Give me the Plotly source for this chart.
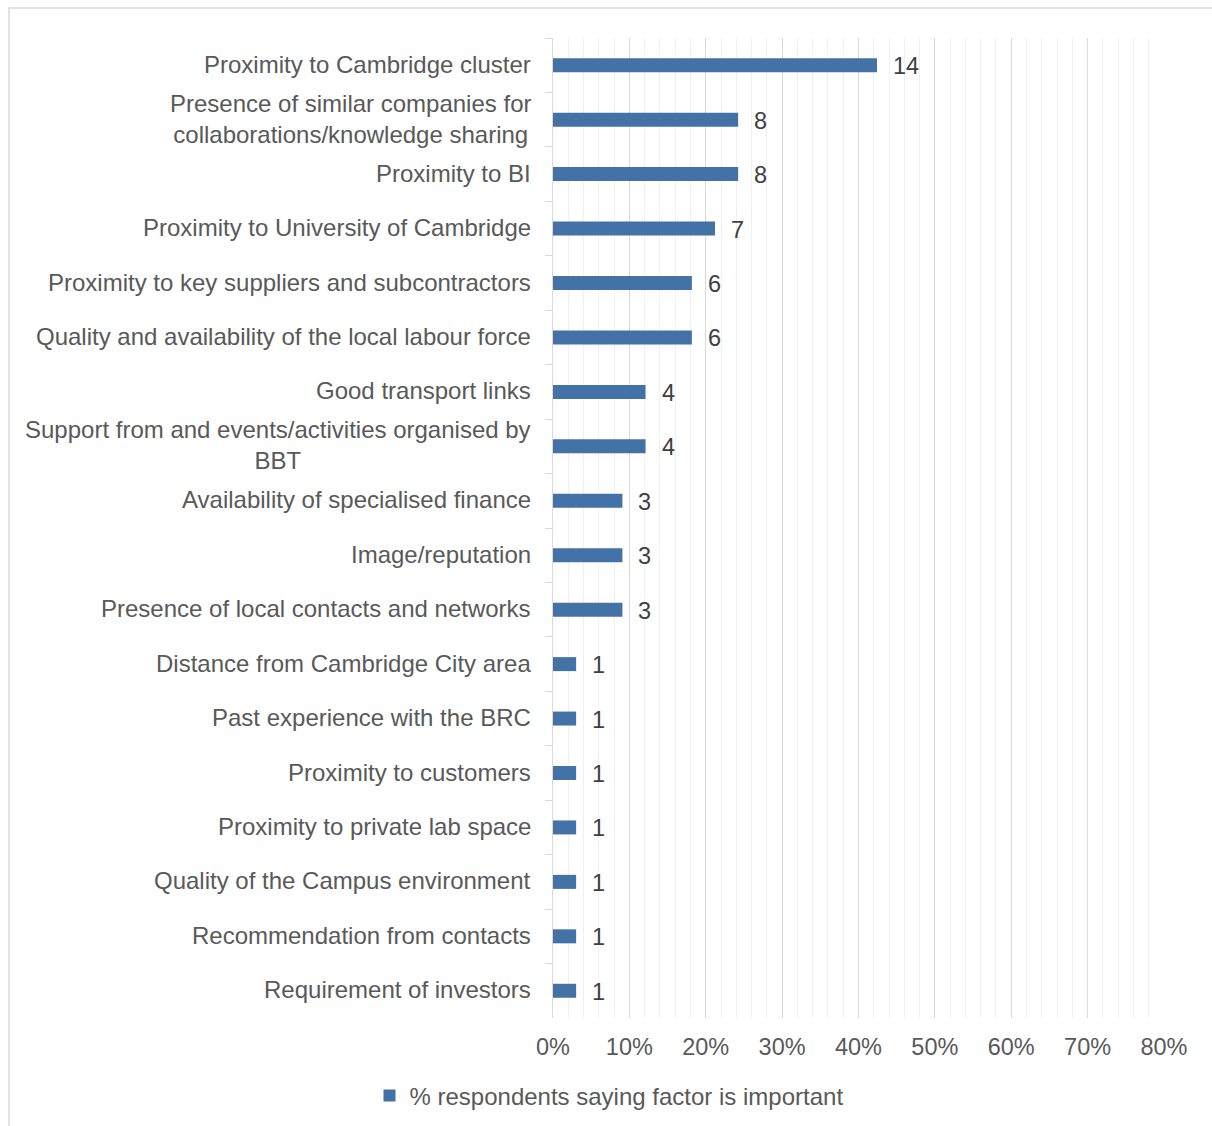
import plotly.graph_objects as go

# Factors cited by respondents and how many respondents named each one
factors = [
    "Proximity to Cambridge cluster",
    "Presence of similar companies for<br>collaborations/knowledge sharing",
    "Proximity to BI",
    "Proximity to University of Cambridge",
    "Proximity to key suppliers and subcontractors",
    "Quality and availability of the local labour force",
    "Good transport links",
    "Support from and events/activities organised by<br>BBT",
    "Availability of specialised finance",
    "Image/reputation",
    "Presence of local contacts and networks",
    "Distance from Cambridge City area",
    "Past experience with the BRC",
    "Proximity to customers",
    "Proximity to private lab space",
    "Quality of the Campus environment",
    "Recommendation from contacts",
    "Requirement of investors",
]
counts = [14, 8, 8, 7, 6, 6, 4, 4, 3, 3, 3, 1, 1, 1, 1, 1, 1, 1]
n_respondents = 33
x_ticks = [0, 10, 20, 30, 40, 50, 60, 70, 80]

share = [c / n_respondents * 100 for c in counts]

FONT = "Liberation Sans, Arial, sans-serif"
TXT = "#595959"
BAR = "#4472A6"

W, H = 1212, 1126
L, R, T, B = 553, W - 1164, 38, H - 1018
pw, ph = W - L - R, H - T - B

def px_x(p):
    return (p - L) / pw

def px_y(p):
    return (H - B - p) / ph

fig = go.Figure()
fig.add_trace(go.Bar(
    y=factors,
    x=share,
    orientation="h",
    marker=dict(color=BAR, line=dict(width=0)),
    name="% respondents saying factor is important",
    hoverinfo="x+y",
))

annotations = []
# value labels at the end of each bar
for f, v, c in zip(factors, share, counts):
    annotations.append(dict(
        x=v, y=f, xref="x", yref="y", text=str(c), showarrow=False,
        xanchor="left", yanchor="middle", xshift=14, yshift=-1,
        font=dict(family=FONT, size=23.5, color="#404040"),
    ))
# category labels, centred line by line
for f in factors:
    annotations.append(dict(
        x=0, y=f, xref="paper", yref="y", text=f, showarrow=False,
        xanchor="right", yanchor="middle", align="center", xshift=-20, yshift=1,
        font=dict(family=FONT, size=24, color=TXT),
    ))

fig.update_layout(
    width=W, height=H,
    margin=dict(l=L, r=R, t=T, b=B, autoexpand=False),
    paper_bgcolor="white",
    plot_bgcolor="white",
    bargap=0.743,
    font=dict(family=FONT, size=23.5, color=TXT),
    showlegend=True,
    legend=dict(
        orientation="h", x=px_x(609), xanchor="center",
        y=px_y(1096), yanchor="middle",
        font=dict(family=FONT, size=24, color=TXT),
    ),
    annotations=annotations,
    shapes=[dict(
        type="rect", xref="paper", yref="paper",
        x0=px_x(9), x1=px_x(1230), y0=px_y(1140), y1=px_y(8),
        line=dict(color="#d9d9d9", width=1.5), layer="below",
    )],
)

fig.update_xaxes(
    range=[0, 80],
    tickvals=x_ticks,
    ticktext=[f"{t}%" for t in x_ticks],
    showgrid=True, gridcolor="#d9d9d9", gridwidth=1.3,
    minor=dict(dtick=2, showgrid=True, gridcolor="#f0f0f0", gridwidth=1.3),
    zeroline=False, showline=False, ticks="",
    ticklabelstandoff=12,
    tickfont=dict(family=FONT, size=23.5, color=TXT),
    automargin=False,
    fixedrange=True,
)
fig.update_yaxes(
    autorange="reversed",
    showticklabels=False,
    showgrid=False, zeroline=False,
    showline=True, linecolor="#d9d9d9", linewidth=1.3,
    ticks="outside", tickson="boundaries", ticklen=7, tickcolor="#d9d9d9", tickwidth=1.3,
    automargin=False,
    fixedrange=True,
)

fig.write_html("out.html")
